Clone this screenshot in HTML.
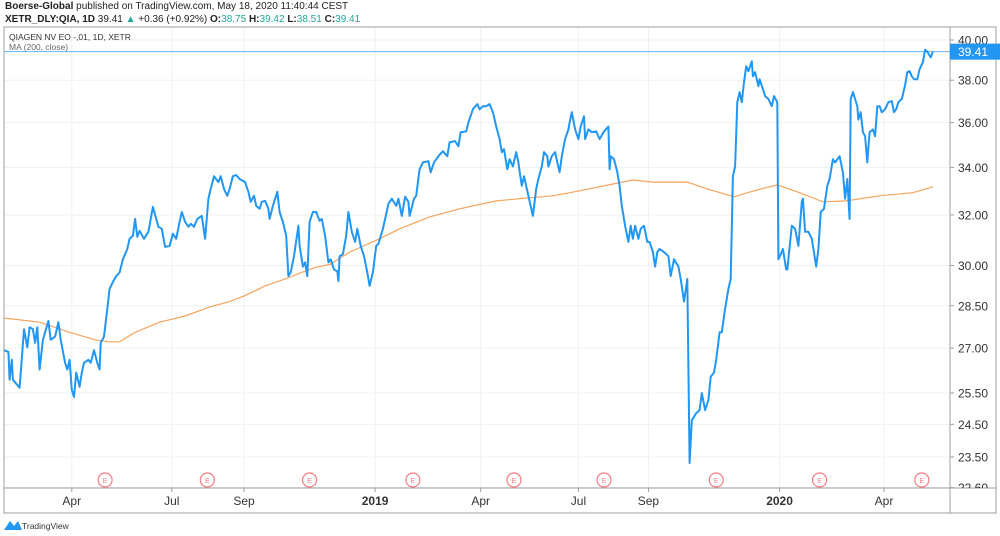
<!DOCTYPE html>
<html><head><meta charset="utf-8"><style>
body{margin:0;background:#fff;font-family:"Liberation Sans",sans-serif;}
#wrap{position:relative;width:1000px;height:536px;overflow:hidden;}
.hd{position:absolute;left:5px;font-size:10px;color:#222;white-space:nowrap}
</style></head><body>
<div id="wrap">
<div class="hd" style="top:1px"><b>Boerse-Global</b> published on TradingView.com, May 18, 2020 11:40:44 CEST</div>
<div class="hd" style="top:14px"><b>XETR_DLY:QIA, 1D</b> 39.41 <span style="color:#26a69a">▲</span> +0.36 (+0.92%) <b>O:</b><span style="color:#26a69a">38.75</span> <b>H:</b><span style="color:#26a69a">39.42</span> <b>L:</b><span style="color:#26a69a">38.51</span> <b>C:</b><span style="color:#26a69a">39.41</span></div>
<svg id="chart" width="1000" height="536" style="position:absolute;left:0;top:0"></svg>
</div>
<script>
const days=[0,4,5,7,8,14,18,21,23,26,28,30,32,35,40,42,46,49,51,55,57,59,61,63,65,68,70,72,76,78,81,84,86,87,90,93,95,98,101,104,107,111,113,116,118,120,122,126,130,134,139,142,145,149,152,155,158,160,163,166,168,171,174,178,181,184,186,189,193,195,198,201,203,206,209,212,217,220,222,225,227,230,232,235,238,239,242,246,248,251,254,256,258,261,265,266,269,271,273,275,278,281,284,286,289,292,294,297,300,301,302,305,308,310,313,316,318,321,324,327,329,332,335,337,341,344,346,349,353,355,358,361,364,365,369,371,374,377,382,384,387,391,395,399,401,406,409,411,416,418,422,426,428,431,434,437,440,443,446,448,450,453,455,458,461,463,464,466,468,472,476,479,481,484,486,489,490,493,496,498,500,502,505,508,509,511,514,517,519,522,523,526,529,533,536,540,544,545,546,549,552,554,556,559,562,564,566,568,571,573,576,579,581,584,586,588,590,594,598,600,603,607,609,612,615,617,619,623,626,628,631,634,636,639,641,644,646,649,652,654,656,658,660,662,664,666,668,670,673,674,676,679,680,683,685,688,691,693,696,697,700,701,704,705,709,712,715,718,719,721,724,727,731,733,735,738,741,743,746,748,752,755,757,759,761,762,764,768,769,771,773,775,777,779,782,784,786,788,790,793,796,799,801,803,805,808,811,813,815,817,819,822,824,827,829,831,834,836];
const prices=[26.93,26.87,25.93,26.6,25.93,25.67,27.66,27.03,27.73,27.66,27.18,27.73,26.27,27.29,27.95,27.29,27.4,27.91,27.29,26.5,26.27,26.6,25.6,25.37,26.17,25.7,26.17,26.5,26.6,26.5,26.93,26.5,26.27,27.18,27.4,28.39,29.12,29.38,29.6,29.74,30.24,30.64,31.04,31.16,31.84,31.12,31.36,31.04,31.32,32.33,31.52,31.44,30.72,30.76,31.24,31.04,31.72,32.12,31.72,31.52,31.64,31.52,31.84,31.96,31.04,32.67,33.08,33.62,33.37,33.62,33.08,32.79,33.08,33.62,33.67,33.5,33.37,32.96,32.54,32.79,32.37,32.25,32.54,32.58,32.25,31.84,32.37,32.96,32.12,31.72,31.16,29.6,29.74,30.36,31.56,30.76,29.96,30.12,29.6,31.72,32.12,32.12,31.76,31.84,31.16,30.12,30.24,29.85,29.78,29.41,30.36,30.44,31.16,32.12,31.32,30.92,31.44,30.76,30.36,29.74,29.23,29.74,30.76,30.84,31.44,32.04,32.46,32.67,32.37,32.67,31.96,32.75,32.54,31.96,32.67,32.79,33.92,34.22,34.27,33.79,34.22,34.49,34.71,34.49,35.11,35.16,34.93,35.56,35.6,36,36.62,36.86,36.62,36.76,36.76,36.86,36.48,35.82,35.25,34.67,34.8,33.92,34.36,34.04,34.67,34.22,33.83,33.21,33.62,32.79,31.96,33.08,33.5,34.04,34.67,34.49,34.04,34.49,34.67,34.22,33.79,34.49,35.25,35.69,36,36.48,35.69,35.25,35.82,36.29,35.25,35.69,35.56,35.6,35.25,35.6,35.82,33.92,34.49,34.36,33.79,33.21,32.37,31.56,30.92,31.56,31.04,31.56,31.04,31.44,31.56,30.92,30.92,30.52,29.96,30.52,30.64,30.52,30.36,29.6,30.24,29.96,29.49,28.65,29.49,23.32,24.63,24.85,24.95,25.5,24.95,25.27,26.03,26.17,26.6,27.55,27.55,28.39,29.12,29.49,33.62,34.04,36.95,37.43,36.95,37.9,38.68,38.44,38.93,38.19,38.39,37.71,38.05,37.57,37.24,37.1,36.76,37.24,36.95,30.24,30.52,30.64,29.85,29.85,31.56,31.44,30.76,32.54,32.67,31.32,31.32,31.04,29.96,30.64,32.12,32.25,33.21,33.5,34.36,34.22,34.49,33.79,32.67,33.5,31.84,37.1,37.43,36.76,36.14,36.48,35.56,35.38,34.22,35.56,35.69,35.38,36.76,36.76,36.48,36.62,36.95,37.0,36.48,36.62,36.95,37.1,37.76,38.39,38.44,38.19,38.05,38.05,38.54,38.88,39.51,39.41,39.12,39.41];
const maDays=[0,32,59,82,95,104,118,140,163,176,185,203,217,235,253,266,280,293,311,338,356,383,410,443,464,494,518,548,566,584,615,633,657,675,696,716,737,758,788,818,836];
const maValues=[28.06,27.91,27.55,27.29,27.22,27.22,27.55,27.91,28.13,28.32,28.46,28.65,28.87,29.23,29.49,29.71,29.93,30.04,30.52,31.04,31.44,31.92,32.25,32.58,32.67,32.79,33.0,33.29,33.46,33.37,33.37,33.08,32.75,33.0,33.25,32.92,32.54,32.58,32.79,32.92,33.17];
const yTicks=[40,38,36,34,32,30,28.5,27,25.5,24.5,23.5,22.6];
const monthLabels=["Apr","Jul","Sep","2019","Apr","Jul","Sep","2020","Apr"];
const monthDays=[61,151,216,334,429,517,580,698,792];
const earningsDays=[91,183,275,368,459,540,641,734,826];
const lastPrice=39.41;

const svg=document.getElementById('chart');
const NS='http://www.w3.org/2000/svg';
const L=4,R=950,T=27,B=488;
function xOf(d){return 4+d/0.9;}
function yOf(p){return 40+(Math.log(40)-Math.log(p))*784;}
function mk(tag,attrs,parent){const e=document.createElementNS(NS,tag);for(const k in attrs)e.setAttribute(k,attrs[k]);(parent||svg).appendChild(e);return e;}

const clip=mk('clipPath',{id:'pc'});mk('rect',{x:L,y:T,width:R-L,height:B-T},clip);
const yc=mk('clipPath',{id:'yc'});mk('rect',{x:951,y:T+1,width:49,height:B-T-1},yc);

yTicks.forEach(v=>{const g=mk('line',{x1:L,x2:R,y1:yOf(v),y2:yOf(v),stroke:'#eef1f6','stroke-width':1});

});
monthDays.forEach(d=>{const x=xOf(d);const g=mk('line',{x1:x,x2:x,y1:T,y2:B,stroke:'#eef1f6','stroke-width':1});

});

const fr=mk('rect',{x:L,y:T,width:996-L,height:513-T,fill:'none',stroke:'#9aa0a6','stroke-width':1});


mk('line',{x1:R,x2:R,y1:T,y2:513,stroke:'#9aa0a6'});
mk('line',{x1:L,x2:996,y1:B,y2:B,stroke:'#9aa0a6'});

yTicks.forEach(v=>{const y=yOf(v);
mk('line',{x1:R,x2:R+4,y1:y,y2:y,stroke:'#9aa0a6'});
const t=mk('text',{x:958,y:y+4.5,'font-size':12,fill:'#333','clip-path':'url(#yc)'});t.textContent=v.toFixed(2);

});

monthLabels.forEach((s,i)=>{const x=xOf(monthDays[i]);
mk('line',{x1:x,x2:x,y1:B,y2:B+4,stroke:'#9aa0a6'});
const t=mk('text',{x:x,y:505,'font-size':12,fill:'#333','text-anchor':'middle','font-weight':/^\d/.test(s)?'bold':'normal'});t.textContent=s;

});

earningsDays.forEach(d=>{const x=xOf(d);const g=mk('g',{});


mk('circle',{cx:x,cy:480,r:7,fill:'#fff',stroke:'#f77c80','stroke-width':1.2},g);
const t=mk('text',{x:x,y:483,'font-size':7,fill:'#f77c80','text-anchor':'middle'},g);t.textContent='E';});

const ma=mk('path',{d:maDays.map((d,i)=>(i?'L':'M')+xOf(d).toFixed(1)+','+yOf(maValues[i]).toFixed(1)).join(''),fill:'none',stroke:'#f7a35c','stroke-width':1.2,'clip-path':'url(#pc)'});



const ly=yOf(lastPrice);
const lpl=mk('line',{x1:L,x2:R,y1:ly,y2:ly,stroke:'#64b5f6','stroke-width':1});



const pl=mk('path',{d:days.map((d,i)=>(i?'L':'M')+xOf(d).toFixed(1)+','+yOf(prices[i]).toFixed(1)).join(''),fill:'none',stroke:'#2196f3','stroke-width':2,'stroke-linejoin':'round','clip-path':'url(#pc)'});



const bg=mk('g',{});


mk('rect',{x:R,y:ly-8,width:50,height:16,fill:'#2196f3'},bg);
const bt=mk('text',{x:958,y:ly+4.5,'font-size':12,fill:'#fff'},bg);bt.textContent=lastPrice.toFixed(2);

const l1=mk('text',{x:9,y:40,'font-size':8.5,fill:'#333'});l1.textContent='QIAGEN NV EO -,01, 1D, XETR';


const l2=mk('text',{x:9,y:50,'font-size':8.5,fill:'#666'});l2.textContent='MA (200, close)';



const lg=mk('g',{});


mk('path',{d:'M4,530 L10,521 L14,526 L18,521 L22,530 Z',fill:'#2196f3'},lg);
const lt=mk('text',{x:22,y:529,'font-size':8.5,fill:'#333'},lg);lt.textContent='TradingView';
</script>
</body></html>
